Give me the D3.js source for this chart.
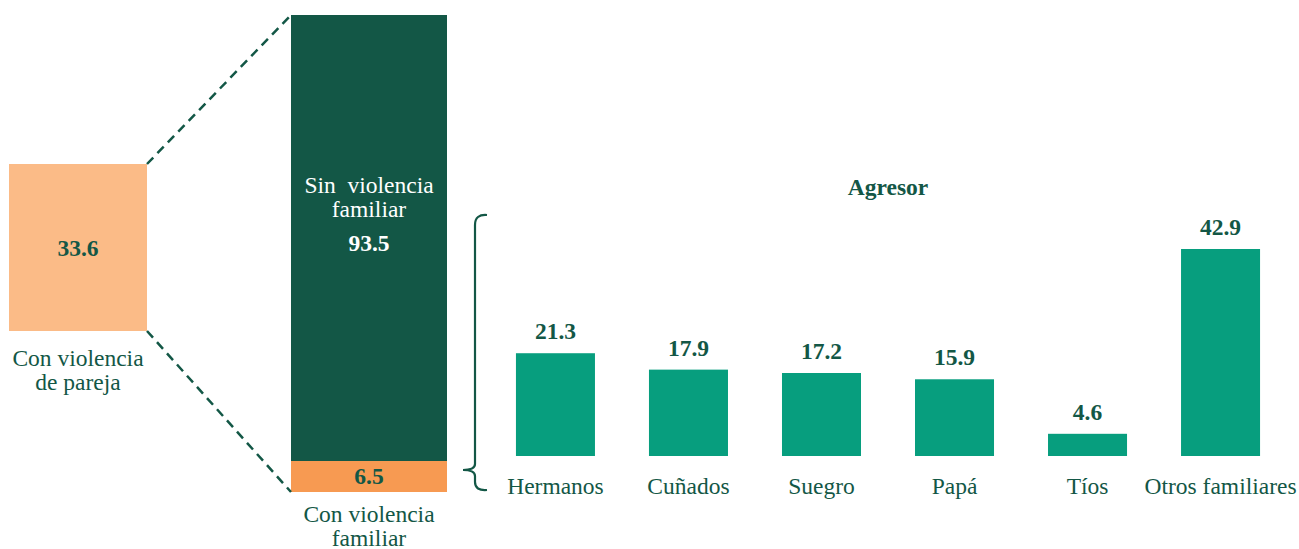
<!DOCTYPE html>
<html>
<head>
<meta charset="utf-8">
<script src="https://cdn.jsdelivr.net/npm/d3@7"></script>
<style>
  body { margin: 0; background: #fff; }
  svg { font-family: "Liberation Serif", "Times New Roman", "DejaVu Serif", serif; }
</style>
</head>
<body>
<div id="chart"></div>
<script>

// data
var parejaValue = 33.6
var parejaLabel = ["Con violencia", "de pareja"]

var stackKeys = ["Con violencia familiar", "Sin violencia familiar"]
var stackValues = [6.5, 93.5]

var agresores = ["Hermanos", "Cuñados", "Suegro", "Papá", "Tíos", "Otros familiares"]
var agresorValues = [21.3, 17.9, 17.2, 15.9, 4.6, 42.9]

var width = 1299, height = 549

var darkGreen = "#135746"
var midGreen = "#079E7E"
var lightOrange = "#FBBB87"
var orange = "#F79A52"

var labelSize = 23.5, numSize = 23.5

var svg = d3.select("#chart").append("svg")
	.attr("width", width)
	.attr("height", height)

// Box on the left
var box = { x0: 9, x1: 147, y0: 164, y1: 331 }

svg.append("rect")
	.attr("x", box.x0)
	.attr("y", box.y0)
	.attr("width", box.x1 - box.x0)
	.attr("height", box.y1 - box.y0)
	.attr("fill", lightOrange)

svg.append("text")
	.attr("x", (box.x0 + box.x1) / 2)
	.attr("y", (box.y0 + box.y1) / 2 + 8)
	.attr("text-anchor", "middle")
	.attr("font-weight", "bold")
	.attr("font-size", numSize)
	.attr("fill", darkGreen)
	.text(parejaValue)

svg.selectAll(".parejaLabel").data(parejaLabel).enter()
	.append("text")
	.attr("class", "parejaLabel")
	.attr("x", (box.x0 + box.x1) / 2)
	.attr("y", (d, i) => 366 + i * 24)
	.attr("text-anchor", "middle")
	.attr("font-size", labelSize)
	.attr("fill", darkGreen)
	.text(d => d)

// Stacked bar
var stackX0 = 291, stackX1 = 447

var yStack = d3.scaleLinear().domain([0, 100]).range([492, 15])

var stacked = []
var acc = 0
stackValues.forEach(function(v, i) {
	stacked.push({ key: stackKeys[i], value: v, y0: acc, y1: acc + v })
	acc += v
})

svg.selectAll(".stack").data(stacked).enter()
	.append("rect")
	.attr("class", "stack")
	.attr("x", stackX0)
	.attr("width", stackX1 - stackX0)
	.attr("y", d => yStack(d.y1))
	.attr("height", d => yStack(d.y0) - yStack(d.y1))
	.attr("fill", (d, i) => i == 0 ? orange : darkGreen)

var cx = (stackX0 + stackX1) / 2

svg.append("text")
	.attr("x", cx)
	.attr("y", (yStack(stacked[0].y0) + yStack(stacked[0].y1)) / 2 + 8)
	.attr("text-anchor", "middle")
	.attr("font-weight", "bold")
	.attr("font-size", numSize)
	.attr("fill", darkGreen)
	.text(stacked[0].value)

svg.selectAll(".sinLabel").data(["Sin  violencia", "familiar"]).enter()
	.append("text")
	.attr("class", "sinLabel")
	.attr("x", cx)
	.attr("y", (d, i) => 193 + i * 24)
	.attr("text-anchor", "middle")
	.attr("font-size", labelSize)
	.attr("fill", "#fff")
	.attr("xml:space", "preserve")
	.style("white-space", "pre")
	.text(d => d)

svg.append("text")
	.attr("x", cx)
	.attr("y", 251)
	.attr("text-anchor", "middle")
	.attr("font-weight", "bold")
	.attr("font-size", numSize)
	.attr("fill", "#fff")
	.text(stacked[1].value)

svg.selectAll(".conLabel").data(["Con violencia", "familiar"]).enter()
	.append("text")
	.attr("class", "conLabel")
	.attr("x", cx)
	.attr("y", (d, i) => 522 + i * 24)
	.attr("text-anchor", "middle")
	.attr("font-size", labelSize)
	.attr("fill", darkGreen)
	.text(d => d)

// Dashed connectors
var connectors = [
	[[box.x1, box.y0], [stackX0, yStack(100)]],
	[[box.x1, box.y1], [stackX0, yStack(0)]]
]

svg.selectAll(".connector").data(connectors).enter()
	.append("line")
	.attr("class", "connector")
	.attr("x1", d => d[0][0])
	.attr("y1", d => d[0][1])
	.attr("x2", d => d[1][0])
	.attr("y2", d => d[1][1])
	.attr("stroke", darkGreen)
	.attr("stroke-width", 2.5)
	.attr("stroke-dasharray", "9,6")

// Brace
var braceTop = 215, braceBottom = 490, braceTip = 470
var bx = 475
var bracePath = d3.path()
bracePath.moveTo(bx + 12, braceTop)
bracePath.quadraticCurveTo(bx, braceTop - 1, bx, braceTop + 10)
bracePath.lineTo(bx, braceTip - 6)
bracePath.quadraticCurveTo(bx, braceTip, bx - 12, braceTip)
bracePath.quadraticCurveTo(bx, braceTip, bx, braceTip + 6)
bracePath.lineTo(bx, braceBottom - 8)
bracePath.quadraticCurveTo(bx, braceBottom + 1, bx + 12, braceBottom)

svg.append("path")
	.attr("d", bracePath.toString())
	.attr("fill", "none")
	.attr("stroke", darkGreen)
	.attr("stroke-width", 2.2)

// Agresor bars
var x = d3.scaleBand()
	.domain(agresores)
	.range([494, 1282])
	.paddingInner(0.406)
	.paddingOuter(0.165)

var baseline = 456
var y = d3.scaleLinear().domain([0, 42.9]).range([baseline, 249])

svg.append("text")
	.attr("x", 888)
	.attr("y", 195)
	.attr("text-anchor", "middle")
	.attr("font-weight", "bold")
	.attr("font-size", numSize)
	.attr("fill", darkGreen)
	.text("Agresor")

var bars = svg.selectAll(".bar").data(agresores.map((d, i) => ({ name: d, value: agresorValues[i] })))

bars.enter()
	.append("rect")
	.attr("class", "bar")
	.attr("x", d => x(d.name))
	.attr("width", x.bandwidth())
	.attr("y", d => y(d.value))
	.attr("height", d => baseline - y(d.value))
	.attr("fill", midGreen)

bars.enter()
	.append("text")
	.attr("x", d => x(d.name) + x.bandwidth() / 2)
	.attr("y", d => y(d.value) - 14)
	.attr("text-anchor", "middle")
	.attr("font-weight", "bold")
	.attr("font-size", numSize)
	.attr("fill", darkGreen)
	.text(d => d.value.toFixed(1))

bars.enter()
	.append("text")
	.attr("x", d => x(d.name) + x.bandwidth() / 2)
	.attr("y", 494)
	.attr("text-anchor", "middle")
	.attr("font-size", labelSize)
	.attr("fill", darkGreen)
	.text(d => d.name)

</script>
</body>
</html>
